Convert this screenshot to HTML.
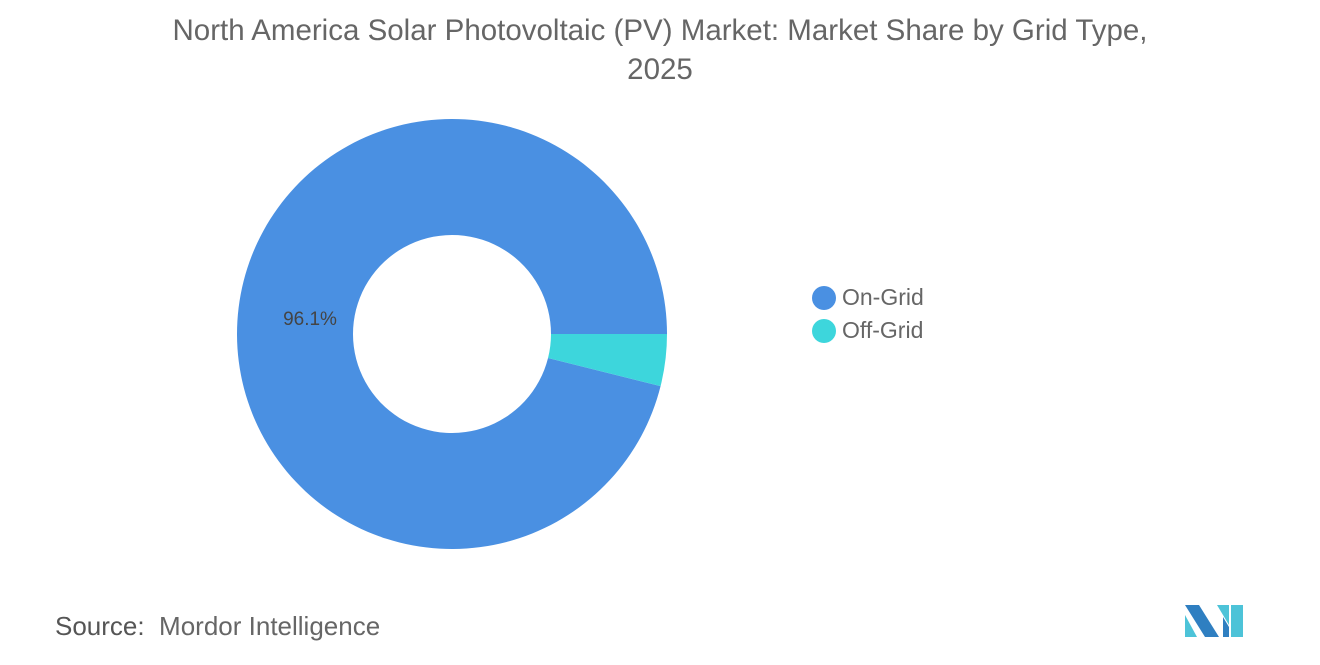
<!DOCTYPE html>
<html><head><meta charset="utf-8"><style>
body{margin:0;width:1320px;height:665px;background:#fff;font-family:"Liberation Sans",sans-serif;overflow:hidden;position:relative}
.t{position:absolute;left:0;width:1320px;text-align:center;top:11px;font-size:29.5px;line-height:39px;color:#666}
.src{position:absolute;left:55px;top:611px;font-size:26px;color:#666}
.leg{position:absolute;left:812px;font-size:23px;color:#666;display:flex;align-items:center}
.leg span.d{width:24px;height:24px;border-radius:50%;display:inline-block;margin-right:6px}
</style></head><body>
<div class="t">North America Solar Photovoltaic (PV) Market: Market Share by Grid Type,<br>2025</div>
<svg id="c" width="1320" height="665" style="position:absolute;left:0;top:0"></svg>
<div class="leg" style="top:284px"><span class="d" style="background:#4a90e2"></span>On-Grid</div>
<div class="leg" style="top:317px"><span class="d" style="background:#3dd6dc"></span>Off-Grid</div>
<div class="src"><b style="font-weight:normal;color:#555">Source:</b>&nbsp; Mordor Intelligence</div>
<svg width="70" height="36" style="position:absolute;left:1183px;top:603px">
<polygon points="2,2 16,2 36,34 22,34" fill="#2f7fc1"/><polygon points="2,12 14,34 2,34" fill="#4dc3d8"/>
<polygon points="34,2 46,2 46,22" fill="#4dc3d8"/><polygon points="48,2 60,2 60,34 48,34" fill="#4dc3d8"/><polygon points="40,14 46,24 46,34 40,34" fill="#2f7fc1"/>
</svg>
<script>
const categories=["On-Grid","Off-Grid"];
const values=[96.1,3.9];
const colors=["#4a90e2","#3dd6dc"];
const svg=document.getElementById('c');
const cx=452,cy=334,R=215,r=99;
const total=values.reduce((a,b)=>a+b,0);
let start=values[1]/total*2*Math.PI;
function pt(a,rad){return [cx+rad*Math.cos(a),cy+rad*Math.sin(a)];}
values.forEach((v,i)=>{
 const sweep=v/total*2*Math.PI,end=start+sweep,lg=sweep>Math.PI?1:0;
 const [x1,y1]=pt(start,R),[x2,y2]=pt(end,R),[x3,y3]=pt(end,r),[x4,y4]=pt(start,r);
 const p=document.createElementNS("http://www.w3.org/2000/svg","path");
 p.setAttribute('d',`M${x1},${y1}A${R},${R} 0 ${lg} 1 ${x2},${y2}L${x3},${y3}A${r},${r} 0 ${lg} 0 ${x4},${y4}Z`);
 p.setAttribute('fill',colors[i]);
 
 
 svg.appendChild(p);
 start=end;
});
const t=document.createElementNS("http://www.w3.org/2000/svg","text");
t.setAttribute('x',310);t.setAttribute('y',325);t.setAttribute('text-anchor','middle');
t.setAttribute('font-size','19');t.setAttribute('fill','#444');t.setAttribute('font-family','Liberation Sans, sans-serif');
t.textContent=values[0].toFixed(1)+'%';


svg.appendChild(t);
</script>
</body></html>
